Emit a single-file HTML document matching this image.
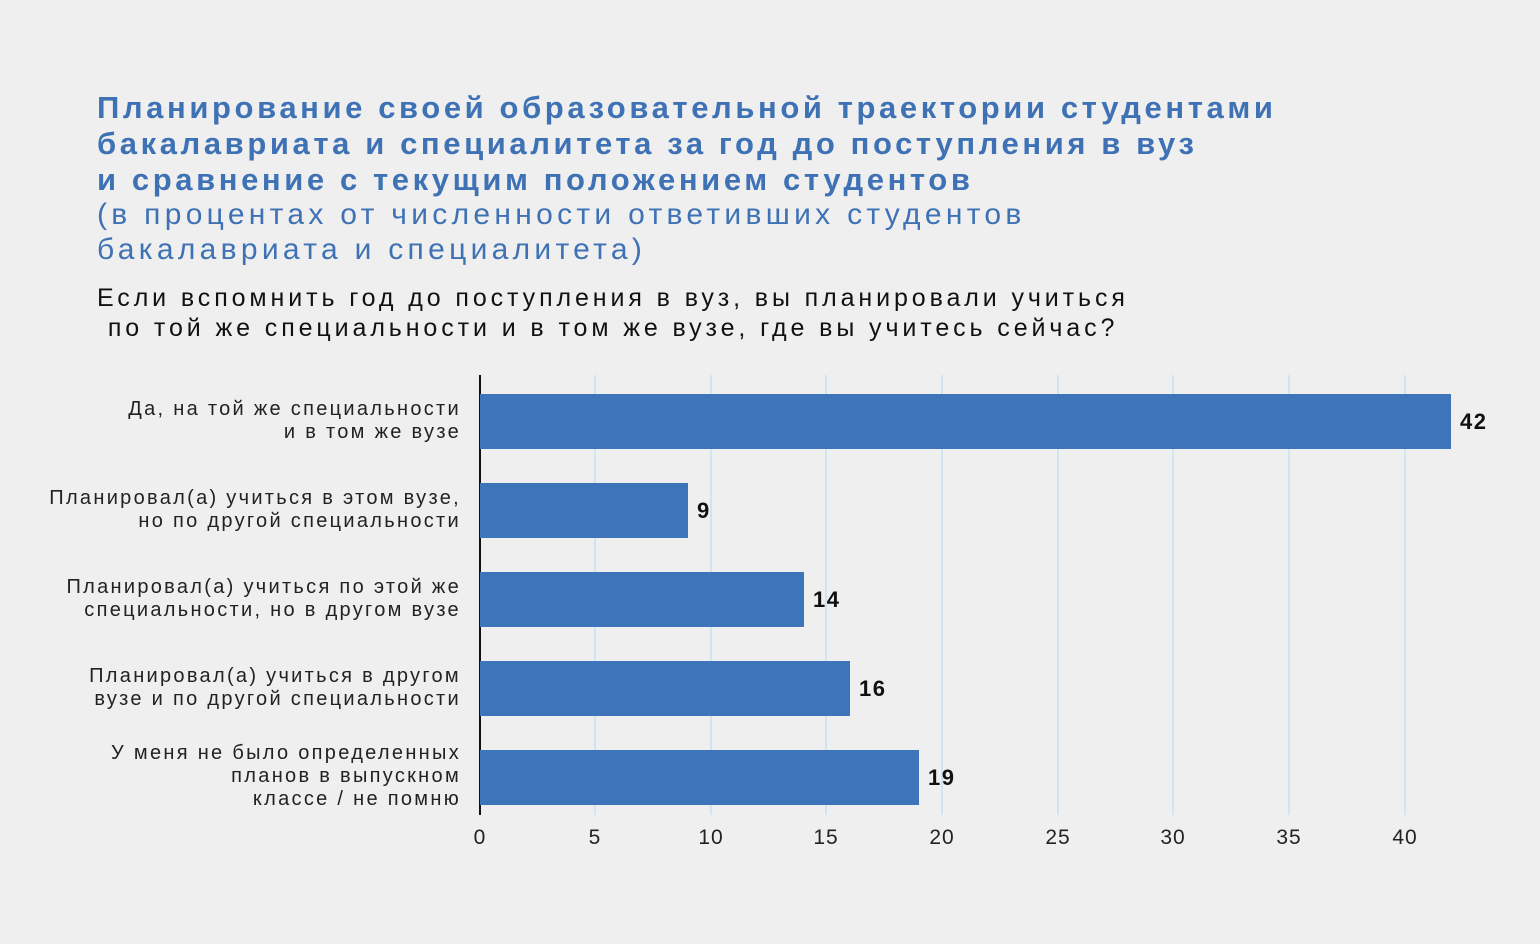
<!DOCTYPE html>
<html><head><meta charset="utf-8"><style>
body{margin:0;width:1540px;height:944px;background:#efefef;position:relative;overflow:hidden;font-family:"Liberation Sans",sans-serif;}
.t{position:absolute;left:97px;color:#3e72b5;white-space:nowrap}
.b{font-weight:bold;font-size:31px;letter-spacing:3.6px}
.n{font-size:30px;letter-spacing:4.3px}
.q{position:absolute;left:97px;font-size:25px;color:#111;letter-spacing:3.9px;white-space:nowrap}
.lab{position:absolute;right:1079px;text-align:right;font-size:20px;color:#222;line-height:23px;letter-spacing:2.3px;white-space:nowrap}
.bar{position:absolute;left:480px;height:55px;background:#3d74ba}
.v{position:absolute;font-weight:bold;font-size:22px;color:#111;letter-spacing:1.5px}
.g{position:absolute;top:375px;height:440px;width:2px;margin-left:-1px;background:#cfe6f2}
.tk{position:absolute;top:826px;font-size:21px;color:#222;width:50px;margin-left:-25px;text-align:center;letter-spacing:1px}
</style></head><body>
<div class="t b" style="top:90px">Планирование своей образовательной траектории студентами</div>
<div class="t b" style="top:126px">бакалавриата и специалитета за год до поступления в вуз</div>
<div class="t b" style="top:162px">и сравнение с текущим положением студентов</div>
<div class="t n" style="top:198px">(в процентах от численности ответивших студентов</div>
<div class="t n" style="top:233px">бакалавриата и специалитета)</div>
<div class="q" style="top:284px">Если вспомнить год до поступления в вуз, вы планировали учиться</div>
<div class="q" style="top:314px">&nbsp;по той же специальности и в том же вузе, где вы учитесь сейчас?</div>

<div class="g" style="left:595px"></div><div class="g" style="left:711px"></div><div class="g" style="left:826px"></div><div class="g" style="left:942px"></div><div class="g" style="left:1058px"></div><div class="g" style="left:1173px"></div><div class="g" style="left:1289px"></div><div class="g" style="left:1405px"></div>
<div style="position:absolute;left:479px;top:375px;width:2px;height:440px;background:#111"></div>

<div class="bar" style="top:394px;width:971px"></div><div class="v" style="left:1460px;top:409px">42</div>
<div class="bar" style="top:483px;width:208px"></div><div class="v" style="left:697px;top:498px">9</div>
<div class="bar" style="top:572px;width:324px"></div><div class="v" style="left:813px;top:587px">14</div>
<div class="bar" style="top:661px;width:370px"></div><div class="v" style="left:859px;top:676px">16</div>
<div class="bar" style="top:750px;width:439px"></div><div class="v" style="left:928px;top:765px">19</div>

<div class="lab" style="top:398px">Да, на той же специальности<br>и в том же вузе</div>
<div class="lab" style="top:487px">Планировал(а) учиться в этом вузе,<br>но по другой специальности</div>
<div class="lab" style="top:576px">Планировал(а) учиться по этой же<br>специальности, но в другом вузе</div>
<div class="lab" style="top:665px">Планировал(а) учиться в другом<br>вузе и по другой специальности</div>
<div class="lab" style="top:742px">У меня не было определенных<br>планов в выпускном<br>классе / не помню</div>

<div class="tk" style="left:480px">0</div><div class="tk" style="left:595px">5</div><div class="tk" style="left:711px">10</div><div class="tk" style="left:826px">15</div><div class="tk" style="left:942px">20</div><div class="tk" style="left:1058px">25</div><div class="tk" style="left:1173px">30</div><div class="tk" style="left:1289px">35</div><div class="tk" style="left:1405px">40</div>
</body></html>
